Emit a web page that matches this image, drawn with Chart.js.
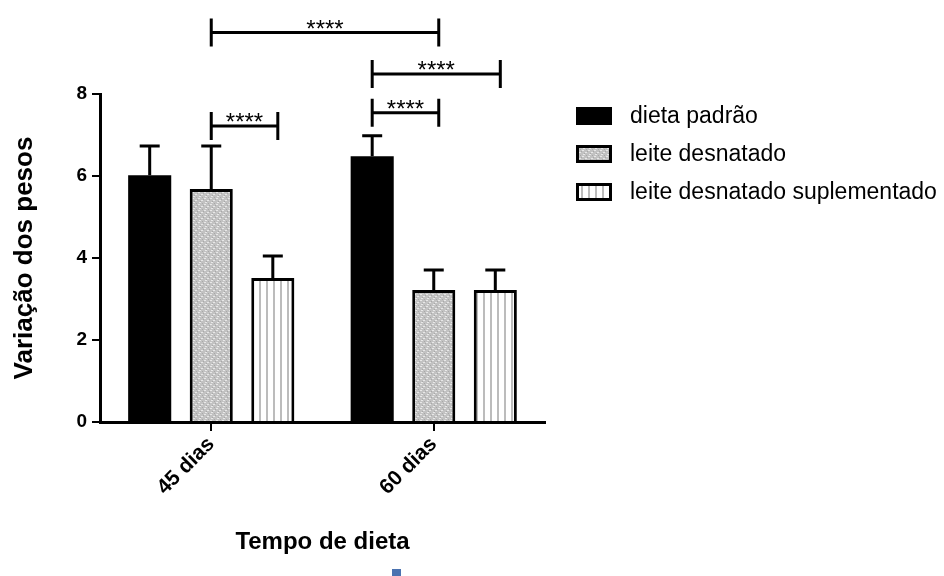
<!DOCTYPE html>
<html>
<head>
<meta charset="utf-8">
<script src="https://cdn.jsdelivr.net/npm/chart.js@4.4.1/dist/chart.umd.min.js"></script>
<style>
html, body { margin: 0; padding: 0; background: #fff; }
</style>
</head>
<body>
<canvas id="c" width="944" height="576"></canvas>
<script>
// data
const categories = ['45 dias', '60 dias'];
const seriesNames = ['dieta padrão', 'leite desnatado', 'leite desnatado suplementado'];
const dietaPadrao = [6.02, 6.48];
const leiteDesnatado = [5.68, 3.22];
const leiteSuplementado = [3.51, 3.22];
// upper end of the error bars, one list per series
const errDieta = [6.73, 6.98];
const errLeite = [6.73, 3.71];
const errSuplem = [4.05, 3.71];
const yTicks = [0, 2, 4, 6, 8];
// significance brackets: [series, category] -> [series, category], height in axis units
const bracketFrom = [[1, 0], [1, 0], [0, 1], [0, 1]];
const bracketTo = [[1, 1], [2, 0], [1, 1], [2, 1]];
const bracketY = [9.5, 7.22, 7.54, 8.49];
const bracketLabel = ['****', '****', '****', '****'];

const FONT = '"Liberation Sans", Arial, sans-serif';

function dotPattern() {
	const c = document.createElement('canvas');
	c.width = 6; c.height = 6;
	const g = c.getContext('2d');
	g.fillStyle = '#c2c2c2';
	g.fillRect(0, 0, 6, 6);
	g.fillStyle = '#e8e8e8';
	g.fillRect(0, 0, 2, 1);
	g.fillRect(3, 2, 2, 1);
	g.fillRect(1, 4, 2, 1);
	g.fillStyle = '#a8a8a8';
	g.fillRect(5, 1, 1, 1);
	g.fillRect(2, 3, 1, 1);
	g.fillRect(4, 5, 1, 1);
	return g.createPattern(c, 'repeat');
}

function stripePattern() {
	const c = document.createElement('canvas');
	c.width = 7; c.height = 4;
	const g = c.getContext('2d');
	g.fillStyle = '#fff';
	g.fillRect(0, 0, 7, 4);
	g.fillStyle = '#bcbcbc';
	g.fillRect(0, 0, 2, 4);
	return g.createPattern(c, 'repeat');
}

const dots = dotPattern();
const stripes = stripePattern();
const fills = ['#000', dots, stripes];

const overlay = {
	id: 'overlay',
	afterDatasetsDraw(chart) {
		const ctx = chart.ctx;
		const y = chart.scales.y;
		ctx.save();
		ctx.strokeStyle = '#000';
		ctx.lineWidth = 3;
		// error bars
		[errDieta, errLeite, errSuplem].forEach((arr, d) => {
			chart.getDatasetMeta(d).data.forEach((bar, i) => {
				const top = y.getPixelForValue(arr[i]);
				ctx.beginPath();
				ctx.moveTo(bar.x, bar.y);
				ctx.lineTo(bar.x, top);
				ctx.moveTo(bar.x - 10, top);
				ctx.lineTo(bar.x + 10, top);
				ctx.stroke();
			});
		});
		// brackets
		ctx.fillStyle = '#000';
		ctx.font = '24px ' + FONT;
		ctx.textAlign = 'center';
		ctx.textBaseline = 'alphabetic';
		bracketY.forEach((v, k) => {
			const a = chart.getDatasetMeta(bracketFrom[k][0]).data[bracketFrom[k][1]];
			const b = chart.getDatasetMeta(bracketTo[k][0]).data[bracketTo[k][1]];
			const x1 = a.x, x2 = b.x + 5;
			const py = y.getPixelForValue(v);
			ctx.beginPath();
			ctx.moveTo(x1, py); ctx.lineTo(x2, py);
			ctx.moveTo(x1, py - 14); ctx.lineTo(x1, py + 14);
			ctx.moveTo(x2, py - 14); ctx.lineTo(x2, py + 14);
			ctx.stroke();
			ctx.fillText(bracketLabel[k], (x1 + x2) / 2, py + 4);
		});
		ctx.restore();
	},
	afterDraw(chart) {
		const ctx = chart.ctx;
		ctx.save();
		// legend
		const rows = [116, 154, 192];
		ctx.font = '23px ' + FONT;
		ctx.textBaseline = 'middle';
		ctx.textAlign = 'left';
		seriesNames.forEach((name, i) => {
			const cy = rows[i];
			ctx.fillStyle = fills[i];
			ctx.fillRect(576, cy - 9, 36, 18);
			ctx.strokeStyle = '#000';
			ctx.lineWidth = 3;
			ctx.strokeRect(577.5, cy - 7.5, 33, 15);
			ctx.fillStyle = '#000';
			ctx.fillText(name, 630, cy + 1);
		});
		// small blue mark at the bottom edge
		ctx.fillStyle = '#4a72b0';
		ctx.fillRect(392, 569, 9, 7);
		ctx.restore();
	}
};

new Chart(document.getElementById('c'), {
	type: 'bar',
	data: {
		labels: categories,
		datasets: [
			{ label: seriesNames[0], data: dietaPadrao, backgroundColor: fills[0], borderWidth: 0 },
			{ label: seriesNames[1], data: leiteDesnatado, backgroundColor: fills[1], borderColor: '#000', borderWidth: 3 },
			{ label: seriesNames[2], data: leiteSuplementado, backgroundColor: fills[2], borderColor: '#000', borderWidth: 3 }
		]
	},
	options: {
		responsive: false,
		animation: false,
		devicePixelRatio: 1,
		layout: { padding: { top: 94, right: 399, bottom: 0, left: 0 } },
		categoryPercentage: 0.83,
		barPercentage: 0.70,
		plugins: {
			legend: { display: false },
			tooltip: { enabled: false }
		},
		scales: {
			x: {
				grid: { offset: false, drawOnChartArea: false, drawTicks: true, tickLength: 9, color: '#000', lineWidth: 2 },
				border: { color: '#000', width: 3 },
				ticks: {
					color: '#000',
					font: { family: FONT, size: 21, weight: 'bold' },
					maxRotation: 45, minRotation: 45, padding: 1
				},
				title: {
					display: true, text: 'Tempo de dieta', color: '#000',
					font: { family: FONT, size: 24, weight: 'bold' },
					padding: { top: 0, bottom: 19 }
				},
				afterFit(s) { s.height = 154; }
			},
			y: {
				min: 0, max: 8,
				afterBuildTicks(s) { s.ticks = yTicks.map(v => ({ value: v })); },
				grid: { drawOnChartArea: false, drawTicks: true, tickLength: 8, color: '#000', lineWidth: 2 },
				border: { color: '#000', width: 3 },
				ticks: {
					color: '#000',
					font: { family: FONT, size: 19, weight: 'bold' },
					padding: 5
				},
				title: {
					display: true, text: 'Variação dos pesos', color: '#000',
					font: { family: FONT, size: 26, weight: 'bold' },
					padding: { top: 9, bottom: 0 }
				},
				afterFit(s) { s.width = 100; }
			}
		}
	},
	plugins: [overlay]
});
</script>
</body>
</html>
